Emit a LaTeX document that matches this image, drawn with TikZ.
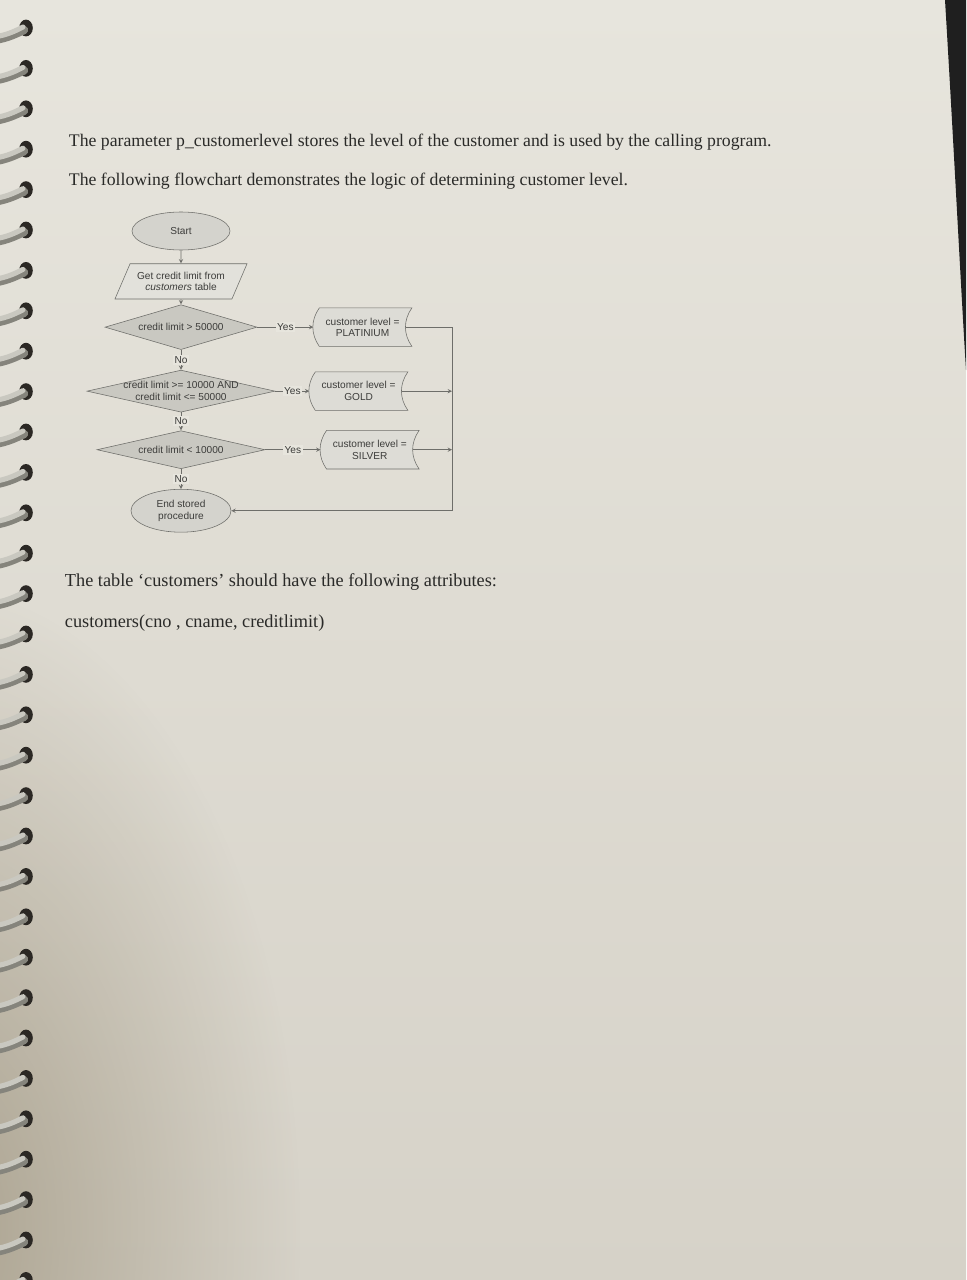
\documentclass[tikz,border=0pt]{standalone}
\usepackage{fontspec}
\setmainfont{Liberation Serif}
\newfontfamily\chartfont{Liberation Sans}
\usetikzlibrary{shapes.geometric, positioning, fadings}
\definecolor{paper}{HTML}{E7E5DD}
\definecolor{paperlow}{HTML}{D6D2C8}
\definecolor{papershade}{HTML}{9C927C}
\definecolor{ink}{HTML}{2A2A28}
\definecolor{chartline}{HTML}{6E6E6A}
\definecolor{chartink}{HTML}{3C3C3A}
\definecolor{termfill}{HTML}{D4D3CD}
\definecolor{iofill}{HTML}{E2E1DB}
\definecolor{askfill}{HTML}{C9C8C1}
\definecolor{storefill}{HTML}{DDDCD6}
\definecolor{wire}{HTML}{C9C8C0}
\definecolor{wiredark}{HTML}{85847C}
\definecolor{hole}{HTML}{2B2824}
\tikzfading[name=softspot, inner color=transparent!0, outer color=transparent!100]
\tikzset{
    x=0.025cm, y=-0.025cm, % one unit is one pixel of the page
    >=stealth, % small filled arrow heads
    chart/.style={font=\chartfont\fontsize{7.2}{8.2}\selectfont, text=chartink, align=center},
    terminal/.style={chart, ellipse, draw=chartline, fill=termfill, minimum width=2.45cm, minimum height=0.95cm},
    io/.style={chart, trapezium, trapezium left angle=62, trapezium right angle=118, trapezium stretches body, draw=chartline, fill=iofill, minimum width=3.3cm, minimum height=0.88cm},
    decision/.style={chart, diamond, draw=chartline, fill=askfill, shape aspect=4.5, inner sep=-4pt},
    storebox/.style={chart, minimum width=2.15cm, minimum height=0.95cm},
    flow/.style={->, draw=chartline, line width=0.4pt},
    answer/.style={chart, fill=paper, inner sep=1pt},
    prose/.style={anchor=west, text=ink},
}
\begin{document}
\begin{tikzpicture}
\useasboundingbox (0,0) rectangle (966,1280);
% the page
\shade[top color=paper, bottom color=paperlow] (0,0) rectangle (966,1280);
\fill[papershade, path fading=softspot, opacity=0.75] (-60,1230) ellipse (9cm and 16cm);
\fill[black!88] (945,0) .. controls (954,150) and (961,290) .. (966,370) -- (966,0) -- cycle;
% spiral binding
\foreach \i in {0,...,31}{
    \pgfmathsetmacro{\ry}{28+40.4*\i}
    \fill[hole] (26,\ry) ellipse (0.17cm and 0.21cm);
    \draw[wiredark, line width=6pt, line cap=round] (-6,\ry+12) .. controls (8,\ry+10) and (17,\ry+5) .. (24,\ry+2);
    \draw[wire, line width=3.6pt, line cap=round] (-6,\ry+9) .. controls (8,\ry+7) and (17,\ry+2) .. (23,\ry-1);
}
% text of the page
\node[prose, font=\fontsize{12.6}{14}\selectfont] (para1) at (64,142) {The parameter p\_customerlevel stores the level of the customer and is used by the calling program.};
\node[prose, font=\fontsize{12.6}{14}\selectfont] (para2) at (64,181) {The following flowchart demonstrates the logic of determining customer level.};
\node[prose, font=\fontsize{13}{15}\selectfont] (para3) at (60,582) {The table ‘customers’ should have the following attributes:};
\node[prose, font=\fontsize{13}{15}\selectfont] (para4) at (60,623) {customers(cno , cname, creditlimit)};
% flowchart
\node[terminal] (start) at (181,231) {Start};
\node[io, below=0.33cm of start] (getlimit) {Get credit limit from\\\textit{customers} table};
\node[decision, minimum width=3.8cm, minimum height=1.12cm, below=0.13cm of getlimit] (ask1) {credit limit > 50000};
\node[decision, minimum width=4.7cm, minimum height=1.05cm, below=0.5cm of ask1] (ask2) {credit limit >= 10000 AND\\credit limit <= 50000};
\node[decision, minimum width=4.2cm, minimum height=0.95cm, below=0.45cm of ask2] (ask3) {credit limit < 10000};
\node[terminal, minimum width=2.5cm, below=0.5cm of ask3] (endp) {End stored\\procedure};
\node[storebox, right=1.55cm of ask1] (plat) {};
\node[storebox, right=1.0cm of ask2] (gold) {};
\node[storebox, right=1.53cm of ask3] (silv) {};
\coordinate (rail) at (452,328);
% outlines of the three level boxes
\foreach \b in {plat,gold,silv}
    \filldraw[draw=chartline, fill=storefill] (\b.north west) to[bend right=35] (\b.south west) -- ([xshift=1.5mm]\b.south east) to[bend left=35] ([xshift=1.5mm]\b.north east) -- cycle;
\node[storebox] at (plat) {customer level =\\PLATINIUM};
\node[storebox] at (gold) {customer level =\\GOLD};
\node[storebox] at (silv) {customer level =\\SILVER};
\draw[flow] (start) -- (getlimit);
\draw[flow] (getlimit) -- (ask1);
\draw[flow] (ask1) -- node[answer]{No} (ask2);
\draw[flow] (ask2) -- node[answer]{No} (ask3);
\draw[flow] (ask3) -- node[answer]{No} (endp);
\draw[flow] (ask1.east) -- node[answer]{Yes} ([xshift=-1.5mm]plat.west);
\draw[flow] (ask2.east) -- node[answer]{Yes} ([xshift=-1.5mm]gold.west);
\draw[flow] (ask3.east) -- node[answer]{Yes} ([xshift=-1.5mm]silv.west);
\draw[flow] (plat.east) -| (rail |- endp.east) -- (endp.east);
\draw[flow] (gold.east) -- (gold.east -| rail);
\draw[flow] (silv.east) -- (silv.east -| rail);
\end{tikzpicture}
\end{document}
